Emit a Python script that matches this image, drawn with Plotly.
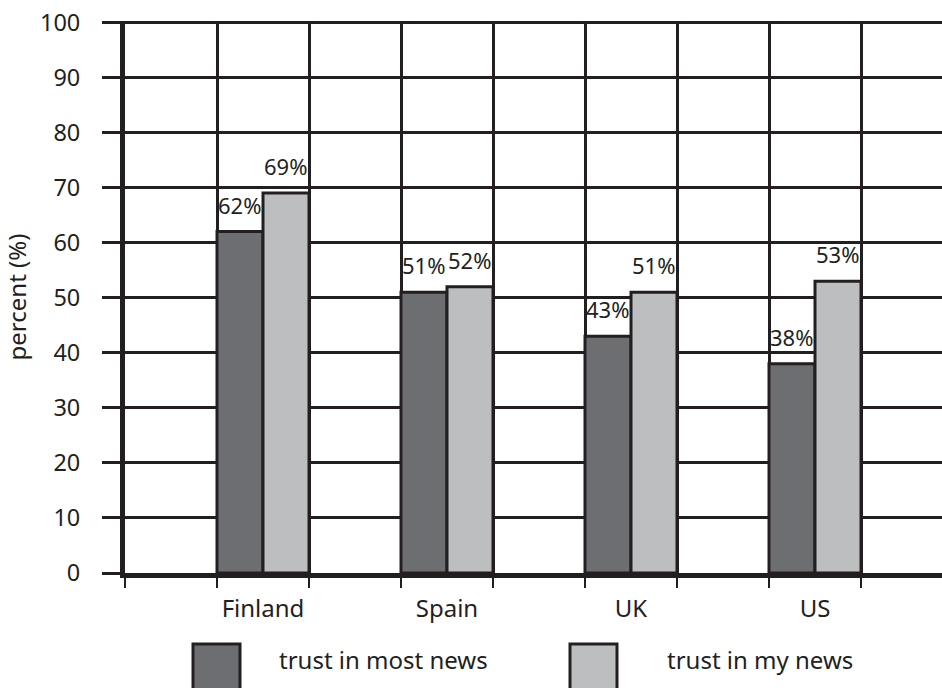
import plotly.graph_objects as go

countries = ["Finland", "Spain", "UK", "US"]
trust_most = [62, 51, 43, 38]
trust_my = [69, 52, 51, 53]
series_names = ["trust in most news", "trust in my news"]
y_ticks = list(range(0, 101, 10))

DARK = "#231f20"
C_MOST = "#6d6e71"
C_MY = "#bcbec0"
FONT = "Noto Sans"

YMAX = 100.25
PX_PER_UNIT = 5.51
W, H = 942, 688
L = 125
T = int(round(22 - (YMAX - 100) * PX_PER_UNIT))
R = 0
B = H - 573
pw, ph = W - L - R, H - T - B

xs = list(range(len(countries)))
edges = [-0.75] + [v for c in xs for v in (c - 0.25, c + 0.25)]

fig = go.Figure()
series = [(series_names[0], trust_most, C_MOST, -0.125), (series_names[1], trust_my, C_MY, 0.125)]
for name, vals, col, dx in series:
    fig.add_trace(go.Bar(
        x=xs, y=vals, name=name,
        marker=dict(color=col, line=dict(color=DARK, width=3)),
        cliponaxis=False, showlegend=False,
    ))
    for xi, v in zip(xs, vals):
        fig.add_annotation(x=xi + dx, y=v, xref="x", yref="y", text=f"{v}%",
                           showarrow=False, yanchor="bottom", xanchor="center",
                           yshift=10, xshift=-1,
                           font=dict(family=FONT, size=22, color=DARK))

fig.update_layout(
    width=W, height=H,
    margin=dict(l=L, r=R, t=T, b=B, autoexpand=False),
    paper_bgcolor="white", plot_bgcolor="white",
    barmode="group", bargap=0.5, bargroupgap=0,
    font=dict(family=FONT, size=24, color=DARK),
    xaxis=dict(
        range=[-0.75, -0.75 + pw / 184.0], automargin=False,
        tickmode="array", tickvals=xs, ticktext=countries,
        ticks="", showgrid=False, zeroline=False,
        showline=True, linecolor=DARK, linewidth=5,
        ticklabelstandoff=10,
        tickfont=dict(family=FONT, size=24, color=DARK),
        minor=dict(tickmode="array", tickvals=edges, ticks="outside",
                   ticklen=10, tickwidth=2, tickcolor=DARK,
                   showgrid=True, gridcolor=DARK, gridwidth=2.5),
    ),
    yaxis=dict(
        range=[0, YMAX], automargin=False,
        tickmode="array", tickvals=y_ticks,
        ticks="outside", ticklen=18, tickwidth=2.5, tickcolor=DARK,
        showgrid=True, gridcolor=DARK, gridwidth=2.5, zeroline=False,
        showline=True, linecolor=DARK, linewidth=5,
        ticklabelstandoff=17, ticklabeloverflow="allow",
        tickfont=dict(family=FONT, size=23.5, color=DARK),
        title=dict(text="percent (%)", standoff=27,
                   font=dict(family=FONT, size=24, color=DARK)),
    ),
)

# manual legend with large swatches (pixel positions in the page)
def px_x(p):
    return (p - L) / pw

def px_y(p):
    return (H - B - p) / ph

legend_items = [(series_names[0], C_MOST, 193, 277), (series_names[1], C_MY, 570, 665)]
for name, col, bx, tx in legend_items:
    fig.add_shape(type="rect", xref="paper", yref="paper",
                  x0=px_x(bx), x1=px_x(bx + 47), y0=px_y(644), y1=px_y(705),
                  fillcolor=col, line=dict(color=DARK, width=3))
    fig.add_annotation(xref="paper", yref="paper", x=px_x(tx), y=px_y(659),
                       text=name, showarrow=False, xanchor="left", yanchor="middle",
                       font=dict(family=FONT, size=24, color=DARK))

fig.write_html("out.html", config={"displayModeBar": False},
               post_script="document.body.style.margin='0';document.body.style.overflow='hidden';")
